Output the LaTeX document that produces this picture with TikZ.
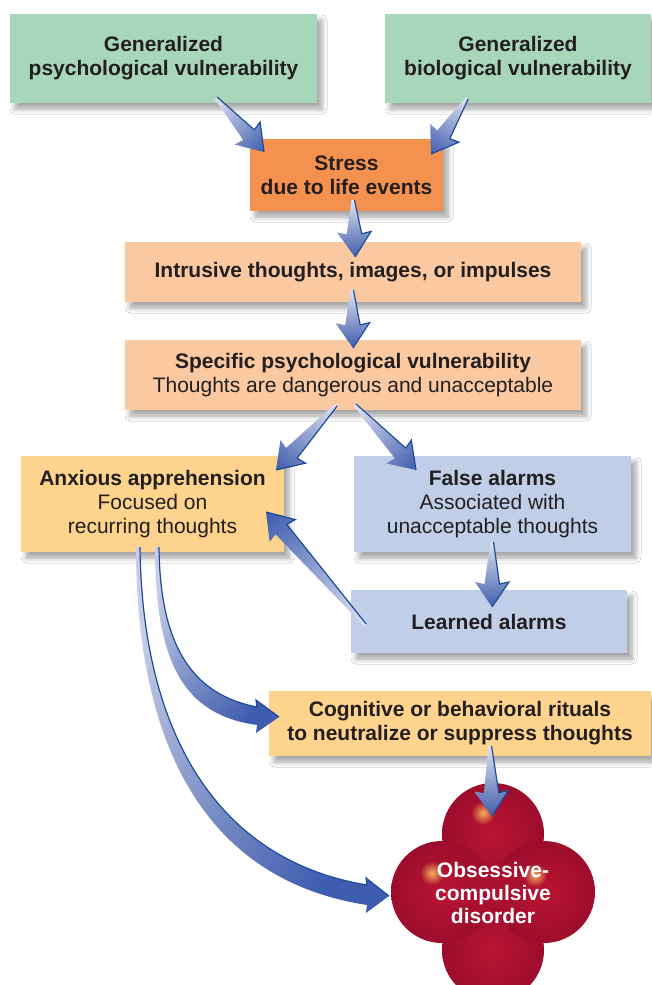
\documentclass[tikz,border=0pt]{standalone}
\usepackage{fontspec}
\setmainfont{Liberation Sans}
\usetikzlibrary{shadows.blur,fadings,calc}

\definecolor{gbox}{HTML}{A8D6BA}
\definecolor{obox}{HTML}{F4914F}
\definecolor{pbox}{HTML}{FAC9A1}
\definecolor{ybox}{HTML}{FDD38D}
\definecolor{bbox}{HTML}{C0CEE8}
\definecolor{txt}{HTML}{231F20}
\definecolor{arrlight}{HTML}{E0E2EF}
\definecolor{arrblue}{HTML}{3F5DAE}
\definecolor{arredge}{HTML}{1B4C9C}
\definecolor{redin}{HTML}{BA1432}
\definecolor{redout}{HTML}{9C0D2C}
\definecolor{redbase}{HTML}{A8102F}
\definecolor{hlcol}{HTML}{F4AE5E}

\tikzfading[name=hlfade, inner color=transparent!0, outer color=transparent!100]

\tikzset{
  box/.style={rectangle, inner sep=0pt, align=center, text=txt,
    font=\fontsize{21}{24}\selectfont,
    blur shadow={shadow xshift=5pt, shadow yshift=-6pt, shadow blur steps=6,
      shadow opacity=35, shadow blur radius=5pt}},
  fatshade/.style={left color=arrlight, right color=arrblue},
  fatedge/.style={draw=arredge, line width=1.2pt, line join=miter},
  blob/.style={inner color=redin, outer color=redout},
}

% straight tapered arrow: [side] {tail} {tip}
\newcommand\fatarrow[3][1]{%
  \pgfpointanchor{#2}{center}\pgfgetlastxy{\fax}{\fay}%
  \pgfpointanchor{#3}{center}\pgfgetlastxy{\fbx}{\fby}%
  \pgfmathsetmacro\fang{atan2((\fby)-(\fay),(\fbx)-(\fax))}%
  \pgfmathsetmacro\flen{veclen((\fbx)-(\fax),(\fby)-(\fay))}%
  \pgfmathsetmacro\fhb{\flen-23}%
  \pgfmathsetmacro\fhc{\flen-25}%
  \begin{scope}[transform canvas={shift={(\fax,\fay)},rotate=\fang}]
    \shade[fatshade] (0pt,-1.5pt) -- (\fhb pt,-7.5pt) -- (\fhc pt,-17pt) -- (\flen pt,0pt)
      -- (\fhc pt,17pt) -- (\fhb pt,7.5pt) -- (0pt,1.5pt) -- cycle;
    \draw[fatedge,yscale=#1] (0pt,1.5pt) -- (\fhb pt,7.5pt) -- (\fhc pt,17pt) -- (\flen pt,0pt);
  \end{scope}}

\begin{document}
\begin{tikzpicture}[x=1pt,y=-1pt]
\useasboundingbox (0,0) rectangle (651,985);
\fill[white] (0,0) rectangle (651,985);

% boxes
\node[box, fill=gbox, minimum width=307pt, minimum height=89pt, font=\fontsize{21}{24}\selectfont\bfseries] (g1) at (163.5,58.5)
  {Generalized\\psychological vulnerability};
\node[box, fill=gbox, minimum width=266pt, minimum height=89pt, font=\fontsize{21}{24}\selectfont\bfseries] (g2) at (518,58.5)
  {Generalized\\biological vulnerability};
\node[box, fill=obox, minimum width=193pt, minimum height=72pt, font=\fontsize{21}{24}\selectfont\bfseries] (stress) at (346.5,175)
  {Stress\\due to life events};
\node[box, fill=pbox, minimum width=456pt, minimum height=60pt, font=\fontsize{21}{24}\selectfont\bfseries] (intr) at (353,272)
  {Intrusive thoughts, images, or impulses};
\node[box, fill=pbox, minimum width=456pt, minimum height=70pt] (spec) at (353,375)
  {\textbf{Specific psychological vulnerability}\\Thoughts are dangerous and unacceptable};
\node[box, fill=ybox, minimum width=263pt, minimum height=96pt] (anx) at (152.5,504)
  {\textbf{Anxious apprehension}\\Focused on\\recurring thoughts};
\node[box, fill=bbox, minimum width=277pt, minimum height=96pt] (false) at (492.5,504)
  {\textbf{False alarms}\\Associated with\\unacceptable thoughts};
\node[box, fill=bbox, minimum width=276pt, minimum height=63pt, font=\fontsize{21}{24}\selectfont\bfseries] (learn) at (489,621.5)
  {Learned alarms};
\node[box, fill=ybox, minimum width=382pt, minimum height=65pt, font=\fontsize{21}{24}\selectfont\bfseries] (cog) at (460,723.5)
  {Cognitive or behavioral rituals\\to neutralize or suppress thoughts};

% OCD blob
\fill[redbase] (493,892) circle (40pt);
\foreach \c in {(493,950),(493,834),(442,892),(544,892)}
  \shade[blob] \c circle (51pt);
\shade[inner color=redin, outer color=redbase, opacity=0.6] (493,892) circle (30pt);
\foreach \c in {(483,813),(432,873),(535,875)}
  \fill[hlcol, path fading=hlfade] \c circle (12pt);
\node[text=white, align=center, inner sep=0pt, font=\fontsize{21}{23}\selectfont\bfseries] (ocd) at (493,893)
  {Obsessive-\\compulsive\\disorder};

% arrow end points
\coordinate (a1s) at (216,98);  \coordinate (a1e) at (264,152);
\coordinate (a2s) at (467,98);  \coordinate (a2e) at (431,154);
\coordinate (a3s) at (353,200); \coordinate (a3e) at (355,257);
\coordinate (a4s) at (352,290); \coordinate (a4e) at (353,348);
\coordinate (a5s) at (336,405); \coordinate (a5e) at (276,470);
\coordinate (a6s) at (355,405); \coordinate (a6e) at (416,470);
\coordinate (a7s) at (492,542); \coordinate (a7e) at (492,607);
\coordinate (a8s) at (365,625); \coordinate (a8e) at (266,512);
\coordinate (a11s) at (490,746); \coordinate (a11e) at (492,816);
\coordinate (t9) at (157,547);  \coordinate (h9) at (279,717);
\coordinate (t10) at (138,547); \coordinate (h10) at (389,896);

\fatarrow{a1s}{a1e}
\fatarrow{a2s}{a2e}
\fatarrow{a3s}{a3e}
\fatarrow{a4s}{a4e}
\fatarrow{a5s}{a5e}
\fatarrow{a6s}{a6e}
\fatarrow{a7s}{a7e}
\fatarrow[-1]{a8s}{a8e}
\fatarrow{a11s}{a11e}

% curved arrow anxious -> rituals
\shade[top color=arrlight!85!arrblue, bottom color=arrblue, shading angle=45]
  ($(t9)+(-2,0)$) .. controls (155,665) and (185,715) .. ($(h9)+(-22,8)$)
  -- ($(h9)+(-23,16)$) -- (h9) -- ($(h9)+(-23,-17)$) -- ($(h9)+(-22,-10)$)
  .. controls (195,695) and (160,650) .. ($(t9)+(2,0)$) -- cycle;
\draw[fatedge] ($(t9)+(2,0)$) .. controls (160,650) and (195,695) .. ($(h9)+(-22,-10)$)
  -- ($(h9)+(-23,-17)$) -- (h9);

% curved arrow anxious -> OCD
\shade[top color=arrlight!85!arrblue, bottom color=arrblue, shading angle=45]
  ($(t10)+(-2,0)$) .. controls (136,745) and (205,880) .. ($(h10)+(-22,9)$)
  -- ($(h10)+(-23,17)$) -- (h10) -- ($(h10)+(-23,-18)$) -- ($(h10)+(-22,-11)$)
  .. controls (215,860) and (142,730) .. ($(t10)+(2,0)$) -- cycle;
\draw[fatedge] ($(t10)+(2,0)$) .. controls (142,730) and (215,860) .. ($(h10)+(-22,-11)$)
  -- ($(h10)+(-23,-18)$) -- (h10);
\end{tikzpicture}
\end{document}
